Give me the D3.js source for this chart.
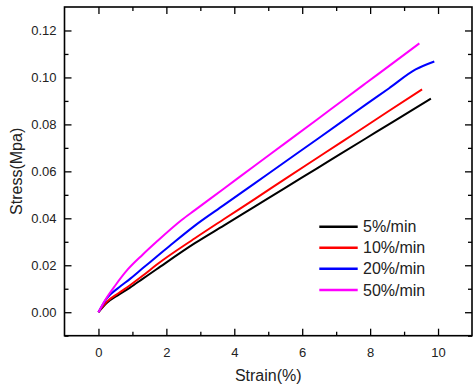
<!DOCTYPE html>
<html>
<head>
<meta charset="utf-8">
<script src="https://cdn.jsdelivr.net/npm/d3@7"></script>
<style>
  html, body { margin: 0; padding: 0; background: #fff; }
  text { font-family: Arial, "Liberation Sans", sans-serif; fill: #222; }
</style>
</head>
<body>
<svg id="chart" width="474" height="388"></svg>
<script>
// ---- Data ----
const seriesNames = ["5%/min", "10%/min", "20%/min", "50%/min"];
const seriesColors = ["#000000", "#ff0000", "#0000ff", "#ff00ff"];

const strain5 = [0, 0.25, 0.6, 0.93, 1.3, 1.71, 2.84, 3.7, 4.6, 5.5, 6.45, 7.08, 7.87, 8.55, 9.2, 9.79];
const stress5 = [0, 0.004, 0.0075, 0.0105, 0.0142, 0.0183, 0.0294, 0.037, 0.045, 0.053, 0.0614, 0.067, 0.074, 0.080, 0.0858, 0.091];

const strain10 = [0, 0.25, 0.6, 0.93, 1.3, 1.71, 2.84, 3.7, 4.6, 5.5, 6.45, 7.2, 7.87, 8.55, 9.53];
const stress10 = [0, 0.0045, 0.0082, 0.0115, 0.0155, 0.0202, 0.0315, 0.0397, 0.0482, 0.0568, 0.0658, 0.0729, 0.0792, 0.0857, 0.0949];

const strain20 = [0, 0.25, 0.6, 0.93, 1.3, 1.71, 2.2, 2.84, 3.7, 4.6, 5.5, 6.45, 7.2, 7.87, 8.55, 9.34, 9.89];
const stress20 = [0, 0.006, 0.0105, 0.0142, 0.0187, 0.0236, 0.0295, 0.0369, 0.0457, 0.0549, 0.0641, 0.0738, 0.0815, 0.0884, 0.0953, 0.1034, 0.1068];

const strain50 = [0, 0.2, 0.5, 0.85, 1.3, 1.71, 2.45, 2.84, 3.7, 4.6, 5.5, 6.45, 7.2, 7.87, 8.7, 9.45];
const stress50 = [0, 0.0052, 0.0115, 0.018, 0.0245, 0.030, 0.0393, 0.0435, 0.0527, 0.0624, 0.072, 0.0822, 0.0903, 0.0975, 0.1064, 0.1145];

const xTicks = [0, 2, 4, 6, 8, 10];
const yTicks = [0.00, 0.02, 0.04, 0.06, 0.08, 0.10, 0.12];
const xMinor = [1, 3, 5, 7, 9];
const yMinor = [-0.01, 0.01, 0.03, 0.05, 0.07, 0.09, 0.11];

const series = [
  { name: seriesNames[0], color: seriesColors[0], x: strain5, y: stress5 },
  { name: seriesNames[1], color: seriesColors[1], x: strain10, y: stress10 },
  { name: seriesNames[2], color: seriesColors[2], x: strain20, y: stress20 },
  { name: seriesNames[3], color: seriesColors[3], x: strain50, y: stress50 }
];

// ---- Layout ----
const svg = d3.select("#chart");
const L = 64.5, R = 472, T = 7, B = 335.7;
const x = d3.scaleLinear().domain([-1, 11]).range([L, R]);
const y = d3.scaleLinear().domain([-0.01, 0.13]).range([B, T]);

const g = svg.append("g");

// curves
const line = d3.line().x(d => x(d[0])).y(d => y(d[1])).curve(d3.curveMonotoneX);
series.forEach(s => {
  const pts = s.x.map((v, i) => [v, s.y[i]]);
  g.append("path").datum(pts)
    .attr("d", line)
    .attr("fill", "none")
    .attr("stroke", s.color)
    .attr("stroke-width", 2)
    .attr("stroke-linejoin", "round");
});

// axes (ticks inward)
function styleAxis(sel) {
  sel.select(".domain").remove();
  sel.selectAll(".tick line").attr("stroke", "#000").attr("stroke-width", 1.3);
  sel.selectAll(".tick text").style("font-size", "13px").style("font-family", "Arial, 'Liberation Sans', sans-serif").attr("fill", "#222");
}
const major = 7, minor = 4;

const xb = g.append("g").attr("transform", `translate(0,${B})`)
  .call(d3.axisBottom(x).tickValues(xTicks).tickFormat(d3.format("d")).tickSizeInner(-major).tickPadding(12));
styleAxis(xb);
const xbm = g.append("g").attr("transform", `translate(0,${B})`)
  .call(d3.axisBottom(x).tickValues(xMinor).tickFormat("").tickSizeInner(-minor));
styleAxis(xbm);
const xt = g.append("g").attr("transform", `translate(0,${T})`)
  .call(d3.axisTop(x).tickValues(xTicks).tickFormat("").tickSizeInner(-major));
styleAxis(xt);
const xtm = g.append("g").attr("transform", `translate(0,${T})`)
  .call(d3.axisTop(x).tickValues(xMinor).tickFormat("").tickSizeInner(-minor));
styleAxis(xtm);

const yl = g.append("g").attr("transform", `translate(${L},0)`)
  .call(d3.axisLeft(y).tickValues(yTicks).tickFormat(d3.format(".2f")).tickSizeInner(-major).tickPadding(8));
styleAxis(yl);
const ylm = g.append("g").attr("transform", `translate(${L},0)`)
  .call(d3.axisLeft(y).tickValues(yMinor).tickFormat("").tickSizeInner(-minor));
styleAxis(ylm);
const yr = g.append("g").attr("transform", `translate(${R},0)`)
  .call(d3.axisRight(y).tickValues(yTicks).tickFormat("").tickSizeInner(-major));
styleAxis(yr);
const yrm = g.append("g").attr("transform", `translate(${R},0)`)
  .call(d3.axisRight(y).tickValues(yMinor).tickFormat("").tickSizeInner(-minor));
styleAxis(yrm);

// frame
g.append("rect").attr("x", L).attr("y", T).attr("width", R - L).attr("height", B - T)
  .attr("fill", "none").attr("stroke", "#000").attr("stroke-width", 1.6);

// axis titles
svg.append("text").attr("x", (L + R) / 2).attr("y", 381)
  .attr("text-anchor", "middle").style("font-size", "16px").text("Strain(%)");
svg.append("text").attr("transform", `translate(22,${(T + B) / 2}) rotate(-90)`)
  .attr("text-anchor", "middle").style("font-size", "16px").text("Stress(Mpa)");

// legend
const legY = [226.7, 247.7, 268.7, 290];
series.forEach((s, i) => {
  svg.append("line").attr("x1", 319.3).attr("x2", 357.7)
    .attr("y1", legY[i]).attr("y2", legY[i])
    .attr("stroke", s.color).attr("stroke-width", 2.5);
  svg.append("text").attr("x", 363).attr("y", legY[i]).attr("dy", "0.36em")
    .style("font-size", "16px").text(s.name);
});
</script>
</body>
</html>
